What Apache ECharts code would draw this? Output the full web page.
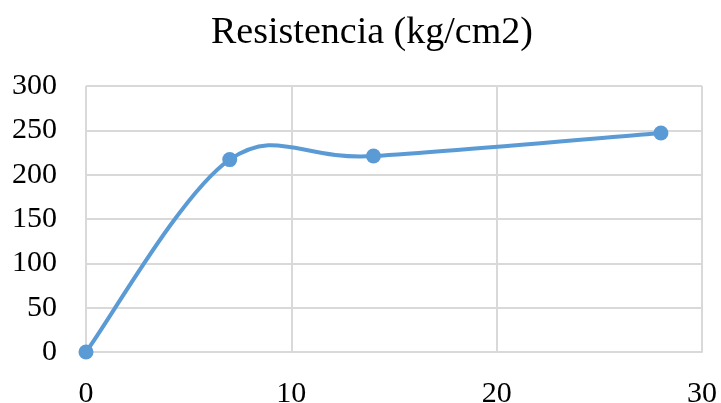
<!DOCTYPE html>
<html>
<head>
<meta charset="utf-8">
<script src="https://cdn.jsdelivr.net/npm/echarts@6/dist/echarts.min.js"></script>
<style>
  html, body { margin: 0; padding: 0; background: #fff; }
  #chart { width: 721px; height: 403px; }
</style>
</head>
<body>
<div id="chart"></div>
<script>
// Curing age (days) and compressive strength (kg/cm2)
const dias = [0, 7, 14, 28];
const resistencia = [0, 217, 221, 247];
const xTicks = [0, 10, 20, 30];
const yTicks = [0, 50, 100, 150, 200, 250, 300];

const points = dias.map((d, i) => [d, resistencia[i]]);
const serif = '"Liberation Serif", "Times New Roman", serif';
const blue = '#5b9bd5';
const gridGray = '#d9d9d9';

// Smoothed curve through the points (Catmull-Rom style Bezier, tension 1/6)
function renderCurve(params, api) {
  if (params.dataIndex !== 0) return null;
  const p = points.map(pt => api.coord(pt));
  const n = p.length;
  let d = 'M' + p[0][0] + ' ' + p[0][1];
  for (let i = 0; i < n - 1; i++) {
    const p0 = p[Math.max(i - 1, 0)];
    const p1 = p[i];
    const p2 = p[i + 1];
    const p3 = p[Math.min(i + 2, n - 1)];
    const c1x = p1[0] + (p2[0] - p0[0]) / 6;
    const c1y = p1[1] + (p2[1] - p0[1]) / 6;
    const c2x = p2[0] - (p3[0] - p1[0]) / 6;
    const c2y = p2[1] - (p3[1] - p1[1]) / 6;
    d += ' C' + c1x + ' ' + c1y + ' ' + c2x + ' ' + c2y + ' ' + p2[0] + ' ' + p2[1];
  }
  return {
    type: 'path',
    shape: { pathData: d },
    style: { stroke: blue, lineWidth: 4, fill: 'none', lineCap: 'round', lineJoin: 'round' }
  };
}

const chart = echarts.init(document.getElementById('chart'), null, { renderer: 'canvas' });
chart.setOption({
  animation: false,
  backgroundColor: '#fff',
  title: {
    text: 'Resistencia (kg/cm2)',
    left: 206,
    top: 9,
    textStyle: { fontFamily: serif, fontSize: 38, fontWeight: 'normal', color: '#000' }
  },
  grid: { left: 86, right: 19, top: 86, bottom: 51, containLabel: false, outerBoundsMode: 'none' },
  xAxis: {
    type: 'value',
    min: xTicks[0],
    max: xTicks[xTicks.length - 1],
    interval: xTicks[1] - xTicks[0],
    axisLine: { show: true, lineStyle: { color: gridGray, width: 2 } },
    axisTick: { show: false },
    splitLine: { show: true, lineStyle: { color: gridGray, width: 2 } },
    axisLabel: { fontFamily: serif, fontSize: 30, color: '#000', margin: 27 }
  },
  yAxis: {
    type: 'value',
    min: yTicks[0],
    max: yTicks[yTicks.length - 1],
    interval: yTicks[1] - yTicks[0],
    axisLine: { show: false },
    axisTick: { show: false },
    splitLine: { show: true, lineStyle: { color: gridGray, width: 2 } },
    axisLabel: { fontFamily: serif, fontSize: 30, color: '#000', margin: 29 }
  },
  series: [
    {
      type: 'custom',
      renderItem: renderCurve,
      data: points,
      clip: false,
      z: 2
    },
    {
      type: 'scatter',
      data: points,
      symbol: 'circle',
      symbolSize: 15,
      itemStyle: { color: blue, opacity: 1 },
      z: 3
    }
  ]
});
</script>
</body>
</html>
